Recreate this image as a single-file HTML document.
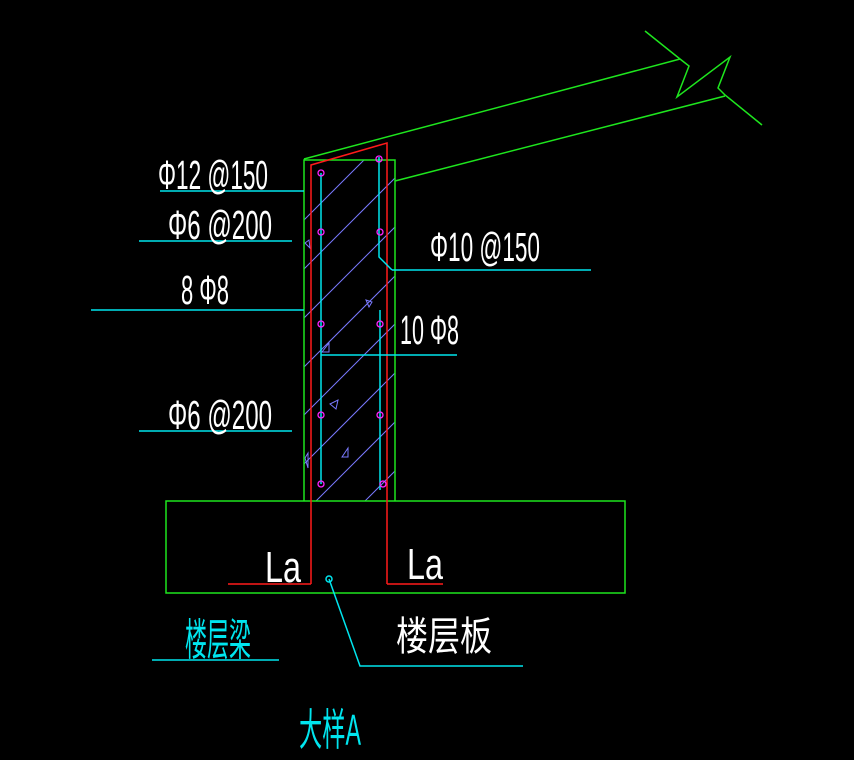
<!DOCTYPE html>
<html><head><meta charset="utf-8"><style>html,body{margin:0;padding:0;background:#000}svg{display:block}</style></head>
<body>
<svg width="854" height="760" viewBox="0 0 854 760" xmlns="http://www.w3.org/2000/svg" font-family="'Liberation Sans','Noto Sans CJK SC',sans-serif">
<rect width="854" height="760" fill="#000"/>
<defs><clipPath id="w"><rect x="304" y="160" width="91" height="341"/></clipPath></defs>
<g clip-path="url(#w)" stroke="#7a7aff" stroke-width="1">
<line x1="304" y1="220" x2="404" y2="120"/>
<line x1="304" y1="269" x2="404" y2="169"/>
<line x1="304" y1="318" x2="404" y2="218"/>
<line x1="304" y1="367" x2="404" y2="267"/>
<line x1="304" y1="415" x2="404" y2="315"/>
<line x1="304" y1="464" x2="404" y2="364"/>
<line x1="304" y1="513" x2="404" y2="413"/>
<line x1="304" y1="562" x2="404" y2="462"/>
</g>
<g fill="none" stroke="#7a7aff" stroke-width="1">
<path d="M322,352 L329,343 L329,352 Z"/><path d="M366,300 L372,302 L369,307 Z"/>
<path d="M330,404 L338,400 L336,409 Z"/><path d="M342,457 L348,448 L348,457 Z"/>
<path d="M305,243 L309,240 L310,248 Z"/><path d="M305,458 L308,453 L308,468 Z"/>
</g>
<g fill="none" stroke="#1ee61e" stroke-width="1.5">
<polyline points="304,501 304,160 395,160 395,501"/>
<rect x="166" y="501" width="459" height="92"/>
<line x1="304" y1="159" x2="680" y2="59"/>
<line x1="395" y1="181" x2="725" y2="96"/>
<polyline points="645,31 680,59 689,66 677,97 730,57 718,88 725,95 762,125"/>
</g>
<g fill="none" stroke="#ff1a1a" stroke-width="1.5">
<polyline points="311,584 311,165 387,143 387,584"/>
<line x1="228" y1="584" x2="311" y2="584"/>
<line x1="387" y1="584" x2="443" y2="584"/>
</g>
<g fill="none" stroke="#00e5ee" stroke-width="1.5">
<line x1="321" y1="173" x2="321" y2="484"/>
<polyline points="379,157 379,257 392,270"/>
<line x1="380" y1="310" x2="380" y2="490"/>
<line x1="160" y1="191" x2="304" y2="191"/>
<line x1="139" y1="241" x2="292" y2="241"/>
<line x1="91" y1="310" x2="304" y2="310"/>
<line x1="139" y1="431" x2="292" y2="431"/>
<line x1="392" y1="270" x2="591" y2="270"/>
<line x1="321" y1="355" x2="457" y2="355"/>
<line x1="152" y1="660" x2="279" y2="660"/>
<polyline points="329,579 360,666 523,666"/>
<circle cx="329" cy="579" r="3"/>
</g>
<g fill="none" stroke="#ff22ff" stroke-width="1.3">
<circle cx="321" cy="173" r="3"/><circle cx="379" cy="159" r="3"/>
<circle cx="321" cy="232" r="3"/><circle cx="380" cy="232" r="3"/>
<circle cx="321" cy="324" r="3"/><circle cx="380" cy="324" r="3"/>
<circle cx="321" cy="415" r="3"/><circle cx="380" cy="415" r="3"/>
<circle cx="321" cy="484" r="3"/><circle cx="383" cy="484" r="3"/>
</g>
<g fill="#fff" font-size="41">
<text x="158" y="189" textLength="110" lengthAdjust="spacingAndGlyphs">Φ12 @150</text>
<text x="168" y="239" textLength="104" lengthAdjust="spacingAndGlyphs">Φ6 @200</text>
<text x="181" y="304" textLength="48" lengthAdjust="spacingAndGlyphs">8 Φ8</text>
<text x="168" y="429" textLength="104" lengthAdjust="spacingAndGlyphs">Φ6 @200</text>
<text x="430" y="261" textLength="110" lengthAdjust="spacingAndGlyphs">Φ10 @150</text>
<text x="400" y="344" textLength="59" lengthAdjust="spacingAndGlyphs">10 Φ8</text>
<text x="265" y="582" font-size="44" textLength="36" lengthAdjust="spacingAndGlyphs">La</text>
<text x="407" y="579" font-size="44" textLength="36" lengthAdjust="spacingAndGlyphs">La</text>
</g>
<text x="396" y="650" fill="#fff" font-size="40" textLength="96" lengthAdjust="spacingAndGlyphs">楼层板</text>
<text x="185" y="655" fill="#00e5ee" font-size="44" textLength="66" lengthAdjust="spacingAndGlyphs">楼层梁</text>
<text x="299" y="745" fill="#00e5ee" font-size="44" textLength="62" lengthAdjust="spacingAndGlyphs">大样A</text>
</svg>
</body></html>
